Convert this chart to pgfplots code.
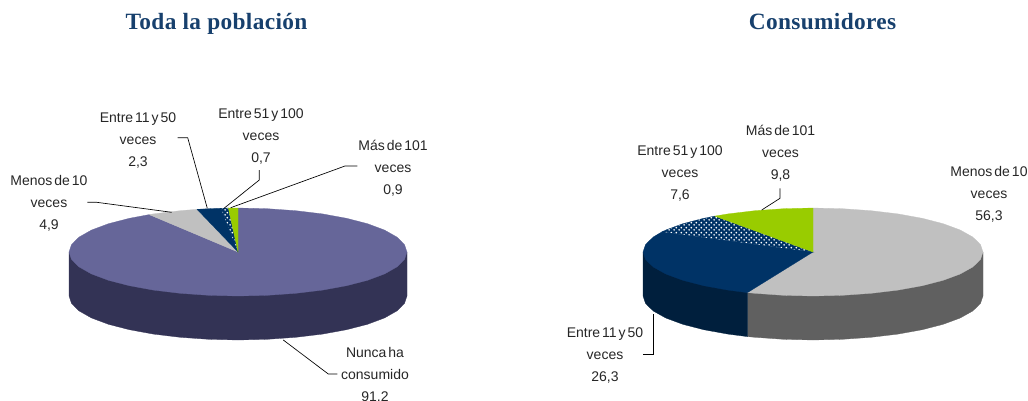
\documentclass[border=0pt]{standalone}
\usepackage{pgfplots}
\pgfplotsset{compat=1.18}
\usepackage{fontspec}
\usetikzlibrary{patterns}
\setmainfont{Liberation Sans}
\newfontfamily\titlefont[LetterSpace=1.5]{Liberation Serif}
\definecolor{titleblue}{HTML}{17406D}
\definecolor{purp}{HTML}{666699}
\definecolor{purpd}{HTML}{333355}
\definecolor{lgray}{HTML}{C0C0C0}
\definecolor{dgray}{HTML}{606060}
\definecolor{navy}{HTML}{003366}
\definecolor{navyd}{HTML}{001F3D}
\definecolor{lime}{HTML}{99CC00}
\pgfdeclarepatternformonly{refdots}{\pgfqpoint{0pt}{0pt}}{\pgfqpoint{3.5pt}{3.5pt}}{\pgfqpoint{3.5pt}{3.5pt}}{%
  \pgfpathcircle{\pgfqpoint{0.875pt}{0.875pt}}{0.72pt}%
  \pgfpathcircle{\pgfqpoint{2.625pt}{2.625pt}}{0.72pt}%
  \pgfusepath{fill}}
\newcommand{\labfont}{\fontsize{10.5}{16.5}\selectfont\spaceskip 0.14em\relax}
\newcommand{\ttlfont}{\titlefont\bfseries\fontsize{17.5}{20}\selectfont}
\tikzset{lab/.style={align=center,text=black!85,inner sep=0pt,font=\labfont},
   ttl/.style={text=titleblue,inner sep=0pt,anchor=base,font=\ttlfont},
   leaderline/.style={black,line width=0.5pt}}
\begin{document}
\begin{tikzpicture}
\path[use as bounding box] (0,0) rectangle (771pt,300pt);
\begin{axis}[at={(0,0)},anchor=south west,scale only axis,width=771pt,height=300pt,
  xmin=0,xmax=1028,ymin=0,ymax=400,y dir=reverse,hide axis,clip=false]
% ---------- Toda la poblacion: wall
\addplot[fill=purpd,draw=purpd,line width=0.2pt] coordinates {(69,252)(69,296)(71.6,303.6)(79.2,311)(91.6,318)(108.5,324.3)(129.4,329.7)(153.5,334.1)(180.2,337.3)(208.7,339.3)(238,340)(267.3,339.3)(295.8,337.3)(322.5,334.1)(346.6,329.7)(367.5,324.3)(384.4,318)(396.8,311)(404.4,303.6)(407,296)(407,252)} -- cycle;
% Nunca ha consumido 91,2
\addplot[fill=purp,draw=purp,line width=0.2pt] coordinates {(238,252)(238,208)(267.3,208.7)(295.8,210.7)(322.5,213.9)(346.6,218.3)(367.5,223.7)(384.4,230)(396.8,237)(404.4,244.4)(407,252)(404.4,259.6)(396.8,267)(384.4,274)(367.5,280.3)(346.6,285.7)(322.5,290.1)(295.8,293.3)(267.3,295.3)(238,296)(208.7,295.3)(180.2,293.3)(153.5,290.1)(129.4,285.7)(108.5,280.3)(91.6,274)(79.2,267)(71.6,259.6)(69,252)(71.6,244.4)(79.2,237)(91.6,230)(108.5,223.7)(129.4,218.3)(149.2,214.6)} -- cycle;
% Menos de 10: 4,9
\addplot[fill=lgray,draw=lgray,line width=0.2pt] coordinates {(238,252)(149.2,214.6)(153.5,213.9)(180.2,210.7)(197,209.3)} -- cycle;
% Entre 11 y 50: 2,3
\addplot[fill=navy,draw=navy,line width=0.2pt] coordinates {(238,252)(197,209.3)(208.7,208.7)(221,208.2)} -- cycle;
% Entre 51 y 100: 0,7
\addplot[fill=navy,draw=navy,line width=0.2pt] coordinates {(238,252)(221,208.2)(228.4,208.1)} -- cycle;
\addplot[pattern=refdots,pattern color=white,draw=none] coordinates {(238,252)(221,208.2)(228.4,208.1)} -- cycle;
% Mas de 101: 0,9
\addplot[fill=lime,draw=lime,line width=0.2pt] coordinates {(238,252)(228.4,208.1)(238,208)} -- cycle;
% leaders
\addplot[leaderline] coordinates {(177.7,137.7)(187.7,137.7)(207.3,208.3)};
\addplot[leaderline] coordinates {(259.3,170)(259.3,180)(224,208.3)};
\addplot[leaderline] coordinates {(357.3,166)(345,166)(230.7,207.7)};
\addplot[leaderline] coordinates {(87.3,202.3)(96.7,202.3)(171.7,212.3)};
\addplot[leaderline] coordinates {(283.3,340)(328.3,374)(337.3,374)};
% ---------- Consumidores: walls
\addplot[fill=dgray,draw=dgray,line width=0.2pt] coordinates {(983,252)(983,296)(980.4,303.6)(972.7,311)(960.2,318)(943.2,324.3)(922.3,329.7)(898,334.1)(871.1,337.3)(842.5,339.3)(813,340)(783.5,339.3)(754.9,337.3)(747.5,336.6)(747.5,292.6)} -- cycle;
\addplot[fill=navyd,draw=navyd,line width=0.2pt] coordinates {(747.5,292.6)(747.5,336.6)(728,334.1)(703.7,329.7)(682.8,324.3)(665.8,318)(653.3,311)(645.6,303.6)(643,296)(643,252)} -- cycle;
% Menos de 10: 56,3
\addplot[fill=lgray,draw=lgray,line width=0.2pt] coordinates {(813,252)(813,208)(842.5,208.7)(871.1,210.7)(898,213.9)(922.3,218.3)(943.2,223.7)(960.2,230)(972.7,237)(980.4,244.4)(983,252)(980.4,259.6)(972.7,267)(960.2,274)(943.2,280.3)(922.3,285.7)(898,290.1)(871.1,293.3)(842.5,295.3)(813,296)(783.5,295.3)(754.9,293.3)(747.5,292.6)} -- cycle;
% Entre 11 y 50: 26,3
\addplot[fill=navy,draw=navy,line width=0.2pt] coordinates {(813,252)(747.5,292.6)(728,290.1)(703.7,285.7)(682.8,280.3)(665.8,274)(653.3,267)(645.6,259.6)(643,252)(645.6,244.4)(653.3,237)(662,231.8)} -- cycle;
% Entre 51 y 100: 7,6
\addplot[fill=navy,draw=navy,line width=0.2pt] coordinates {(813,252)(662,231.8)(665.8,230)(682.8,223.7)(703.7,218.3)(714.8,216.1)} -- cycle;
\addplot[pattern=refdots,pattern color=white,draw=none] coordinates {(813,252)(662,231.8)(665.8,230)(682.8,223.7)(703.7,218.3)(714.8,216.1)} -- cycle;
% Mas de 101: 9,8
\addplot[fill=lime,draw=lime,line width=0.2pt] coordinates {(813,252)(714.8,216.1)(728,213.9)(754.9,210.7)(783.5,208.7)(813,208)} -- cycle;
% leaders
\addplot[leaderline] coordinates {(780,188.3)(780,198.3)(761.7,210)};
\addplot[leaderline] coordinates {(653.3,314)(653.3,354.3)(643.3,354.3)};
% ---------- text
\node[ttl] at (axis cs:216.5,29) {Toda la población};
\node[ttl] at (axis cs:822.5,29) {Consumidores};
\node[lab] at (axis cs:138,140.5) {Entre 11 y 50\\veces\\2,3};
\node[lab] at (axis cs:261,136.5) {Entre 51 y 100\\veces\\0,7};
\node[lab] at (axis cs:393,168.5) {Más de 101\\veces\\0,9};
\node[lab] at (axis cs:49,203.5) {Menos de 10\\veces\\4,9};
\node[lab] at (axis cs:375,375) {Nunca ha\\consumido\\91,2};
\node[lab] at (axis cs:680,173.5) {Entre 51 y 100\\veces\\7,6};
\node[lab] at (axis cs:780.5,153.5) {Más de 101\\veces\\9,8};
\node[lab] at (axis cs:989,194.5) {Menos de 10\\veces\\56,3};
\node[lab] at (axis cs:605,355.5) {Entre 11 y 50\\veces\\26,3};
\end{axis}
\end{tikzpicture}
\end{document}
